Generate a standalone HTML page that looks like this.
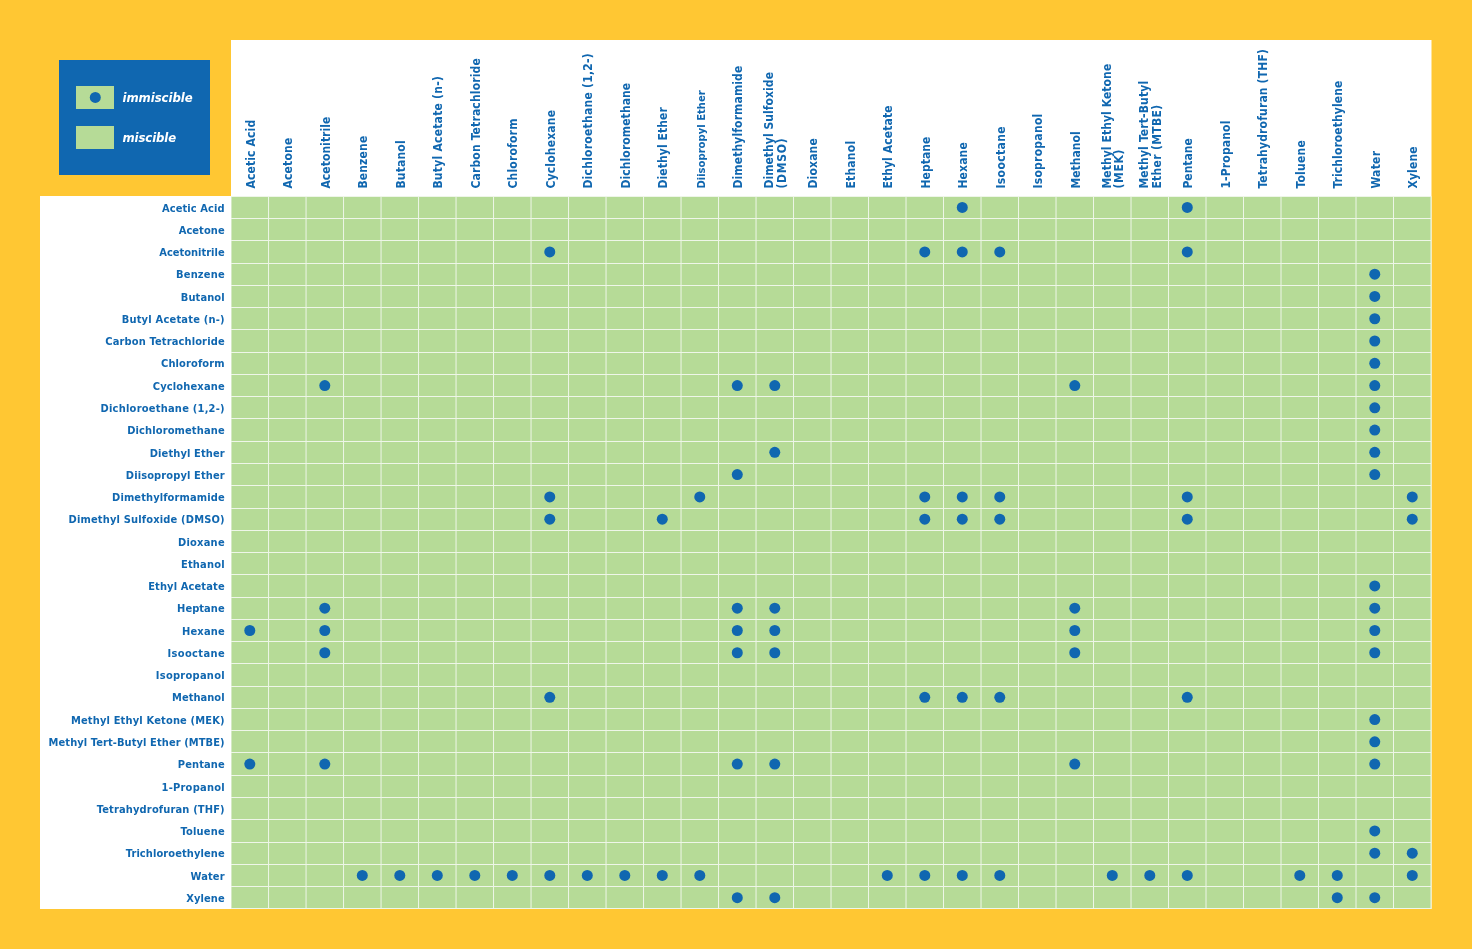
<!DOCTYPE html>
<html><head><meta charset="utf-8"><title>Solvent Miscibility Table</title>
<style>
html,body{margin:0;padding:0;background:#FFC733;}
body{width:1472px;height:949px;overflow:hidden;position:relative;}
svg{position:absolute;left:0;top:0;display:block;will-change:transform;}
.h{font-family:"DejaVu Sans",sans-serif;font-weight:bold;font-stretch:condensed;font-size:12px;fill:#1067B0;}
.r{font-family:"DejaVu Sans",sans-serif;font-weight:bold;font-stretch:condensed;font-size:11px;fill:#1067B0;}
.l{font-family:"DejaVu Sans",sans-serif;font-weight:bold;font-style:italic;font-stretch:condensed;font-size:13px;fill:#fff;}
</style></head><body>
<svg width="1472" height="949" viewBox="0 0 1472 949">
<rect x="0" y="0" width="1472" height="949" fill="#FFC733"/>
<rect x="231" y="40" width="1200.5" height="156" fill="#fff"/>
<rect x="40" y="196" width="1391.5" height="713" fill="#fff"/>
<rect x="231" y="196" width="1200.5" height="713" fill="#EEF6E8"/>
<rect x="59" y="60" width="151" height="115" fill="#1067B0"/>
<rect x="76" y="86" width="38" height="23" fill="#B6DB97"/>
<circle cx="95.3" cy="97.4" r="5.5" fill="#1067B0"/>
<rect x="76" y="126" width="38" height="23" fill="#B6DB97"/>
<text class="l" x="122.5" y="102" textLength="70.2">immiscible</text>
<text class="l" x="122.5" y="142" textLength="53.7">miscible</text>

<g fill="#B6DB97">
<rect x="231.54" y="197" width="36.50" height="21"/>
<rect x="269.04" y="197" width="36.50" height="21"/>
<rect x="306.54" y="197" width="36.50" height="21"/>
<rect x="344.04" y="197" width="36.50" height="21"/>
<rect x="381.54" y="197" width="36.50" height="21"/>
<rect x="419.03" y="197" width="36.50" height="21"/>
<rect x="456.53" y="197" width="36.50" height="21"/>
<rect x="494.03" y="197" width="36.50" height="21"/>
<rect x="531.53" y="197" width="36.50" height="21"/>
<rect x="569.03" y="197" width="36.50" height="21"/>
<rect x="606.53" y="197" width="36.50" height="21"/>
<rect x="644.03" y="197" width="36.50" height="21"/>
<rect x="681.53" y="197" width="36.50" height="21"/>
<rect x="719.03" y="197" width="36.50" height="21"/>
<rect x="756.53" y="197" width="36.50" height="21"/>
<rect x="794.02" y="197" width="36.50" height="21"/>
<rect x="831.52" y="197" width="36.50" height="21"/>
<rect x="869.02" y="197" width="36.50" height="21"/>
<rect x="906.52" y="197" width="36.50" height="21"/>
<rect x="944.02" y="197" width="36.50" height="21"/>
<rect x="981.52" y="197" width="36.50" height="21"/>
<rect x="1019.02" y="197" width="36.50" height="21"/>
<rect x="1056.52" y="197" width="36.50" height="21"/>
<rect x="1094.02" y="197" width="36.50" height="21"/>
<rect x="1131.52" y="197" width="36.50" height="21"/>
<rect x="1169.02" y="197" width="36.50" height="21"/>
<rect x="1206.51" y="197" width="36.50" height="21"/>
<rect x="1244.01" y="197" width="36.50" height="21"/>
<rect x="1281.51" y="197" width="36.50" height="21"/>
<rect x="1319.01" y="197" width="36.50" height="21"/>
<rect x="1356.51" y="197" width="36.50" height="21"/>
<rect x="1394.01" y="197" width="36.50" height="21"/>
<rect x="231.54" y="219" width="36.50" height="21"/>
<rect x="269.04" y="219" width="36.50" height="21"/>
<rect x="306.54" y="219" width="36.50" height="21"/>
<rect x="344.04" y="219" width="36.50" height="21"/>
<rect x="381.54" y="219" width="36.50" height="21"/>
<rect x="419.03" y="219" width="36.50" height="21"/>
<rect x="456.53" y="219" width="36.50" height="21"/>
<rect x="494.03" y="219" width="36.50" height="21"/>
<rect x="531.53" y="219" width="36.50" height="21"/>
<rect x="569.03" y="219" width="36.50" height="21"/>
<rect x="606.53" y="219" width="36.50" height="21"/>
<rect x="644.03" y="219" width="36.50" height="21"/>
<rect x="681.53" y="219" width="36.50" height="21"/>
<rect x="719.03" y="219" width="36.50" height="21"/>
<rect x="756.53" y="219" width="36.50" height="21"/>
<rect x="794.02" y="219" width="36.50" height="21"/>
<rect x="831.52" y="219" width="36.50" height="21"/>
<rect x="869.02" y="219" width="36.50" height="21"/>
<rect x="906.52" y="219" width="36.50" height="21"/>
<rect x="944.02" y="219" width="36.50" height="21"/>
<rect x="981.52" y="219" width="36.50" height="21"/>
<rect x="1019.02" y="219" width="36.50" height="21"/>
<rect x="1056.52" y="219" width="36.50" height="21"/>
<rect x="1094.02" y="219" width="36.50" height="21"/>
<rect x="1131.52" y="219" width="36.50" height="21"/>
<rect x="1169.02" y="219" width="36.50" height="21"/>
<rect x="1206.51" y="219" width="36.50" height="21"/>
<rect x="1244.01" y="219" width="36.50" height="21"/>
<rect x="1281.51" y="219" width="36.50" height="21"/>
<rect x="1319.01" y="219" width="36.50" height="21"/>
<rect x="1356.51" y="219" width="36.50" height="21"/>
<rect x="1394.01" y="219" width="36.50" height="21"/>
<rect x="231.54" y="241" width="36.50" height="22"/>
<rect x="269.04" y="241" width="36.50" height="22"/>
<rect x="306.54" y="241" width="36.50" height="22"/>
<rect x="344.04" y="241" width="36.50" height="22"/>
<rect x="381.54" y="241" width="36.50" height="22"/>
<rect x="419.03" y="241" width="36.50" height="22"/>
<rect x="456.53" y="241" width="36.50" height="22"/>
<rect x="494.03" y="241" width="36.50" height="22"/>
<rect x="531.53" y="241" width="36.50" height="22"/>
<rect x="569.03" y="241" width="36.50" height="22"/>
<rect x="606.53" y="241" width="36.50" height="22"/>
<rect x="644.03" y="241" width="36.50" height="22"/>
<rect x="681.53" y="241" width="36.50" height="22"/>
<rect x="719.03" y="241" width="36.50" height="22"/>
<rect x="756.53" y="241" width="36.50" height="22"/>
<rect x="794.02" y="241" width="36.50" height="22"/>
<rect x="831.52" y="241" width="36.50" height="22"/>
<rect x="869.02" y="241" width="36.50" height="22"/>
<rect x="906.52" y="241" width="36.50" height="22"/>
<rect x="944.02" y="241" width="36.50" height="22"/>
<rect x="981.52" y="241" width="36.50" height="22"/>
<rect x="1019.02" y="241" width="36.50" height="22"/>
<rect x="1056.52" y="241" width="36.50" height="22"/>
<rect x="1094.02" y="241" width="36.50" height="22"/>
<rect x="1131.52" y="241" width="36.50" height="22"/>
<rect x="1169.02" y="241" width="36.50" height="22"/>
<rect x="1206.51" y="241" width="36.50" height="22"/>
<rect x="1244.01" y="241" width="36.50" height="22"/>
<rect x="1281.51" y="241" width="36.50" height="22"/>
<rect x="1319.01" y="241" width="36.50" height="22"/>
<rect x="1356.51" y="241" width="36.50" height="22"/>
<rect x="1394.01" y="241" width="36.50" height="22"/>
<rect x="231.54" y="264" width="36.50" height="21"/>
<rect x="269.04" y="264" width="36.50" height="21"/>
<rect x="306.54" y="264" width="36.50" height="21"/>
<rect x="344.04" y="264" width="36.50" height="21"/>
<rect x="381.54" y="264" width="36.50" height="21"/>
<rect x="419.03" y="264" width="36.50" height="21"/>
<rect x="456.53" y="264" width="36.50" height="21"/>
<rect x="494.03" y="264" width="36.50" height="21"/>
<rect x="531.53" y="264" width="36.50" height="21"/>
<rect x="569.03" y="264" width="36.50" height="21"/>
<rect x="606.53" y="264" width="36.50" height="21"/>
<rect x="644.03" y="264" width="36.50" height="21"/>
<rect x="681.53" y="264" width="36.50" height="21"/>
<rect x="719.03" y="264" width="36.50" height="21"/>
<rect x="756.53" y="264" width="36.50" height="21"/>
<rect x="794.02" y="264" width="36.50" height="21"/>
<rect x="831.52" y="264" width="36.50" height="21"/>
<rect x="869.02" y="264" width="36.50" height="21"/>
<rect x="906.52" y="264" width="36.50" height="21"/>
<rect x="944.02" y="264" width="36.50" height="21"/>
<rect x="981.52" y="264" width="36.50" height="21"/>
<rect x="1019.02" y="264" width="36.50" height="21"/>
<rect x="1056.52" y="264" width="36.50" height="21"/>
<rect x="1094.02" y="264" width="36.50" height="21"/>
<rect x="1131.52" y="264" width="36.50" height="21"/>
<rect x="1169.02" y="264" width="36.50" height="21"/>
<rect x="1206.51" y="264" width="36.50" height="21"/>
<rect x="1244.01" y="264" width="36.50" height="21"/>
<rect x="1281.51" y="264" width="36.50" height="21"/>
<rect x="1319.01" y="264" width="36.50" height="21"/>
<rect x="1356.51" y="264" width="36.50" height="21"/>
<rect x="1394.01" y="264" width="36.50" height="21"/>
<rect x="231.54" y="286" width="36.50" height="21"/>
<rect x="269.04" y="286" width="36.50" height="21"/>
<rect x="306.54" y="286" width="36.50" height="21"/>
<rect x="344.04" y="286" width="36.50" height="21"/>
<rect x="381.54" y="286" width="36.50" height="21"/>
<rect x="419.03" y="286" width="36.50" height="21"/>
<rect x="456.53" y="286" width="36.50" height="21"/>
<rect x="494.03" y="286" width="36.50" height="21"/>
<rect x="531.53" y="286" width="36.50" height="21"/>
<rect x="569.03" y="286" width="36.50" height="21"/>
<rect x="606.53" y="286" width="36.50" height="21"/>
<rect x="644.03" y="286" width="36.50" height="21"/>
<rect x="681.53" y="286" width="36.50" height="21"/>
<rect x="719.03" y="286" width="36.50" height="21"/>
<rect x="756.53" y="286" width="36.50" height="21"/>
<rect x="794.02" y="286" width="36.50" height="21"/>
<rect x="831.52" y="286" width="36.50" height="21"/>
<rect x="869.02" y="286" width="36.50" height="21"/>
<rect x="906.52" y="286" width="36.50" height="21"/>
<rect x="944.02" y="286" width="36.50" height="21"/>
<rect x="981.52" y="286" width="36.50" height="21"/>
<rect x="1019.02" y="286" width="36.50" height="21"/>
<rect x="1056.52" y="286" width="36.50" height="21"/>
<rect x="1094.02" y="286" width="36.50" height="21"/>
<rect x="1131.52" y="286" width="36.50" height="21"/>
<rect x="1169.02" y="286" width="36.50" height="21"/>
<rect x="1206.51" y="286" width="36.50" height="21"/>
<rect x="1244.01" y="286" width="36.50" height="21"/>
<rect x="1281.51" y="286" width="36.50" height="21"/>
<rect x="1319.01" y="286" width="36.50" height="21"/>
<rect x="1356.51" y="286" width="36.50" height="21"/>
<rect x="1394.01" y="286" width="36.50" height="21"/>
<rect x="231.54" y="308" width="36.50" height="21"/>
<rect x="269.04" y="308" width="36.50" height="21"/>
<rect x="306.54" y="308" width="36.50" height="21"/>
<rect x="344.04" y="308" width="36.50" height="21"/>
<rect x="381.54" y="308" width="36.50" height="21"/>
<rect x="419.03" y="308" width="36.50" height="21"/>
<rect x="456.53" y="308" width="36.50" height="21"/>
<rect x="494.03" y="308" width="36.50" height="21"/>
<rect x="531.53" y="308" width="36.50" height="21"/>
<rect x="569.03" y="308" width="36.50" height="21"/>
<rect x="606.53" y="308" width="36.50" height="21"/>
<rect x="644.03" y="308" width="36.50" height="21"/>
<rect x="681.53" y="308" width="36.50" height="21"/>
<rect x="719.03" y="308" width="36.50" height="21"/>
<rect x="756.53" y="308" width="36.50" height="21"/>
<rect x="794.02" y="308" width="36.50" height="21"/>
<rect x="831.52" y="308" width="36.50" height="21"/>
<rect x="869.02" y="308" width="36.50" height="21"/>
<rect x="906.52" y="308" width="36.50" height="21"/>
<rect x="944.02" y="308" width="36.50" height="21"/>
<rect x="981.52" y="308" width="36.50" height="21"/>
<rect x="1019.02" y="308" width="36.50" height="21"/>
<rect x="1056.52" y="308" width="36.50" height="21"/>
<rect x="1094.02" y="308" width="36.50" height="21"/>
<rect x="1131.52" y="308" width="36.50" height="21"/>
<rect x="1169.02" y="308" width="36.50" height="21"/>
<rect x="1206.51" y="308" width="36.50" height="21"/>
<rect x="1244.01" y="308" width="36.50" height="21"/>
<rect x="1281.51" y="308" width="36.50" height="21"/>
<rect x="1319.01" y="308" width="36.50" height="21"/>
<rect x="1356.51" y="308" width="36.50" height="21"/>
<rect x="1394.01" y="308" width="36.50" height="21"/>
<rect x="231.54" y="330" width="36.50" height="22"/>
<rect x="269.04" y="330" width="36.50" height="22"/>
<rect x="306.54" y="330" width="36.50" height="22"/>
<rect x="344.04" y="330" width="36.50" height="22"/>
<rect x="381.54" y="330" width="36.50" height="22"/>
<rect x="419.03" y="330" width="36.50" height="22"/>
<rect x="456.53" y="330" width="36.50" height="22"/>
<rect x="494.03" y="330" width="36.50" height="22"/>
<rect x="531.53" y="330" width="36.50" height="22"/>
<rect x="569.03" y="330" width="36.50" height="22"/>
<rect x="606.53" y="330" width="36.50" height="22"/>
<rect x="644.03" y="330" width="36.50" height="22"/>
<rect x="681.53" y="330" width="36.50" height="22"/>
<rect x="719.03" y="330" width="36.50" height="22"/>
<rect x="756.53" y="330" width="36.50" height="22"/>
<rect x="794.02" y="330" width="36.50" height="22"/>
<rect x="831.52" y="330" width="36.50" height="22"/>
<rect x="869.02" y="330" width="36.50" height="22"/>
<rect x="906.52" y="330" width="36.50" height="22"/>
<rect x="944.02" y="330" width="36.50" height="22"/>
<rect x="981.52" y="330" width="36.50" height="22"/>
<rect x="1019.02" y="330" width="36.50" height="22"/>
<rect x="1056.52" y="330" width="36.50" height="22"/>
<rect x="1094.02" y="330" width="36.50" height="22"/>
<rect x="1131.52" y="330" width="36.50" height="22"/>
<rect x="1169.02" y="330" width="36.50" height="22"/>
<rect x="1206.51" y="330" width="36.50" height="22"/>
<rect x="1244.01" y="330" width="36.50" height="22"/>
<rect x="1281.51" y="330" width="36.50" height="22"/>
<rect x="1319.01" y="330" width="36.50" height="22"/>
<rect x="1356.51" y="330" width="36.50" height="22"/>
<rect x="1394.01" y="330" width="36.50" height="22"/>
<rect x="231.54" y="353" width="36.50" height="21"/>
<rect x="269.04" y="353" width="36.50" height="21"/>
<rect x="306.54" y="353" width="36.50" height="21"/>
<rect x="344.04" y="353" width="36.50" height="21"/>
<rect x="381.54" y="353" width="36.50" height="21"/>
<rect x="419.03" y="353" width="36.50" height="21"/>
<rect x="456.53" y="353" width="36.50" height="21"/>
<rect x="494.03" y="353" width="36.50" height="21"/>
<rect x="531.53" y="353" width="36.50" height="21"/>
<rect x="569.03" y="353" width="36.50" height="21"/>
<rect x="606.53" y="353" width="36.50" height="21"/>
<rect x="644.03" y="353" width="36.50" height="21"/>
<rect x="681.53" y="353" width="36.50" height="21"/>
<rect x="719.03" y="353" width="36.50" height="21"/>
<rect x="756.53" y="353" width="36.50" height="21"/>
<rect x="794.02" y="353" width="36.50" height="21"/>
<rect x="831.52" y="353" width="36.50" height="21"/>
<rect x="869.02" y="353" width="36.50" height="21"/>
<rect x="906.52" y="353" width="36.50" height="21"/>
<rect x="944.02" y="353" width="36.50" height="21"/>
<rect x="981.52" y="353" width="36.50" height="21"/>
<rect x="1019.02" y="353" width="36.50" height="21"/>
<rect x="1056.52" y="353" width="36.50" height="21"/>
<rect x="1094.02" y="353" width="36.50" height="21"/>
<rect x="1131.52" y="353" width="36.50" height="21"/>
<rect x="1169.02" y="353" width="36.50" height="21"/>
<rect x="1206.51" y="353" width="36.50" height="21"/>
<rect x="1244.01" y="353" width="36.50" height="21"/>
<rect x="1281.51" y="353" width="36.50" height="21"/>
<rect x="1319.01" y="353" width="36.50" height="21"/>
<rect x="1356.51" y="353" width="36.50" height="21"/>
<rect x="1394.01" y="353" width="36.50" height="21"/>
<rect x="231.54" y="375" width="36.50" height="21"/>
<rect x="269.04" y="375" width="36.50" height="21"/>
<rect x="306.54" y="375" width="36.50" height="21"/>
<rect x="344.04" y="375" width="36.50" height="21"/>
<rect x="381.54" y="375" width="36.50" height="21"/>
<rect x="419.03" y="375" width="36.50" height="21"/>
<rect x="456.53" y="375" width="36.50" height="21"/>
<rect x="494.03" y="375" width="36.50" height="21"/>
<rect x="531.53" y="375" width="36.50" height="21"/>
<rect x="569.03" y="375" width="36.50" height="21"/>
<rect x="606.53" y="375" width="36.50" height="21"/>
<rect x="644.03" y="375" width="36.50" height="21"/>
<rect x="681.53" y="375" width="36.50" height="21"/>
<rect x="719.03" y="375" width="36.50" height="21"/>
<rect x="756.53" y="375" width="36.50" height="21"/>
<rect x="794.02" y="375" width="36.50" height="21"/>
<rect x="831.52" y="375" width="36.50" height="21"/>
<rect x="869.02" y="375" width="36.50" height="21"/>
<rect x="906.52" y="375" width="36.50" height="21"/>
<rect x="944.02" y="375" width="36.50" height="21"/>
<rect x="981.52" y="375" width="36.50" height="21"/>
<rect x="1019.02" y="375" width="36.50" height="21"/>
<rect x="1056.52" y="375" width="36.50" height="21"/>
<rect x="1094.02" y="375" width="36.50" height="21"/>
<rect x="1131.52" y="375" width="36.50" height="21"/>
<rect x="1169.02" y="375" width="36.50" height="21"/>
<rect x="1206.51" y="375" width="36.50" height="21"/>
<rect x="1244.01" y="375" width="36.50" height="21"/>
<rect x="1281.51" y="375" width="36.50" height="21"/>
<rect x="1319.01" y="375" width="36.50" height="21"/>
<rect x="1356.51" y="375" width="36.50" height="21"/>
<rect x="1394.01" y="375" width="36.50" height="21"/>
<rect x="231.54" y="397" width="36.50" height="21"/>
<rect x="269.04" y="397" width="36.50" height="21"/>
<rect x="306.54" y="397" width="36.50" height="21"/>
<rect x="344.04" y="397" width="36.50" height="21"/>
<rect x="381.54" y="397" width="36.50" height="21"/>
<rect x="419.03" y="397" width="36.50" height="21"/>
<rect x="456.53" y="397" width="36.50" height="21"/>
<rect x="494.03" y="397" width="36.50" height="21"/>
<rect x="531.53" y="397" width="36.50" height="21"/>
<rect x="569.03" y="397" width="36.50" height="21"/>
<rect x="606.53" y="397" width="36.50" height="21"/>
<rect x="644.03" y="397" width="36.50" height="21"/>
<rect x="681.53" y="397" width="36.50" height="21"/>
<rect x="719.03" y="397" width="36.50" height="21"/>
<rect x="756.53" y="397" width="36.50" height="21"/>
<rect x="794.02" y="397" width="36.50" height="21"/>
<rect x="831.52" y="397" width="36.50" height="21"/>
<rect x="869.02" y="397" width="36.50" height="21"/>
<rect x="906.52" y="397" width="36.50" height="21"/>
<rect x="944.02" y="397" width="36.50" height="21"/>
<rect x="981.52" y="397" width="36.50" height="21"/>
<rect x="1019.02" y="397" width="36.50" height="21"/>
<rect x="1056.52" y="397" width="36.50" height="21"/>
<rect x="1094.02" y="397" width="36.50" height="21"/>
<rect x="1131.52" y="397" width="36.50" height="21"/>
<rect x="1169.02" y="397" width="36.50" height="21"/>
<rect x="1206.51" y="397" width="36.50" height="21"/>
<rect x="1244.01" y="397" width="36.50" height="21"/>
<rect x="1281.51" y="397" width="36.50" height="21"/>
<rect x="1319.01" y="397" width="36.50" height="21"/>
<rect x="1356.51" y="397" width="36.50" height="21"/>
<rect x="1394.01" y="397" width="36.50" height="21"/>
<rect x="231.54" y="419" width="36.50" height="22"/>
<rect x="269.04" y="419" width="36.50" height="22"/>
<rect x="306.54" y="419" width="36.50" height="22"/>
<rect x="344.04" y="419" width="36.50" height="22"/>
<rect x="381.54" y="419" width="36.50" height="22"/>
<rect x="419.03" y="419" width="36.50" height="22"/>
<rect x="456.53" y="419" width="36.50" height="22"/>
<rect x="494.03" y="419" width="36.50" height="22"/>
<rect x="531.53" y="419" width="36.50" height="22"/>
<rect x="569.03" y="419" width="36.50" height="22"/>
<rect x="606.53" y="419" width="36.50" height="22"/>
<rect x="644.03" y="419" width="36.50" height="22"/>
<rect x="681.53" y="419" width="36.50" height="22"/>
<rect x="719.03" y="419" width="36.50" height="22"/>
<rect x="756.53" y="419" width="36.50" height="22"/>
<rect x="794.02" y="419" width="36.50" height="22"/>
<rect x="831.52" y="419" width="36.50" height="22"/>
<rect x="869.02" y="419" width="36.50" height="22"/>
<rect x="906.52" y="419" width="36.50" height="22"/>
<rect x="944.02" y="419" width="36.50" height="22"/>
<rect x="981.52" y="419" width="36.50" height="22"/>
<rect x="1019.02" y="419" width="36.50" height="22"/>
<rect x="1056.52" y="419" width="36.50" height="22"/>
<rect x="1094.02" y="419" width="36.50" height="22"/>
<rect x="1131.52" y="419" width="36.50" height="22"/>
<rect x="1169.02" y="419" width="36.50" height="22"/>
<rect x="1206.51" y="419" width="36.50" height="22"/>
<rect x="1244.01" y="419" width="36.50" height="22"/>
<rect x="1281.51" y="419" width="36.50" height="22"/>
<rect x="1319.01" y="419" width="36.50" height="22"/>
<rect x="1356.51" y="419" width="36.50" height="22"/>
<rect x="1394.01" y="419" width="36.50" height="22"/>
<rect x="231.54" y="442" width="36.50" height="21"/>
<rect x="269.04" y="442" width="36.50" height="21"/>
<rect x="306.54" y="442" width="36.50" height="21"/>
<rect x="344.04" y="442" width="36.50" height="21"/>
<rect x="381.54" y="442" width="36.50" height="21"/>
<rect x="419.03" y="442" width="36.50" height="21"/>
<rect x="456.53" y="442" width="36.50" height="21"/>
<rect x="494.03" y="442" width="36.50" height="21"/>
<rect x="531.53" y="442" width="36.50" height="21"/>
<rect x="569.03" y="442" width="36.50" height="21"/>
<rect x="606.53" y="442" width="36.50" height="21"/>
<rect x="644.03" y="442" width="36.50" height="21"/>
<rect x="681.53" y="442" width="36.50" height="21"/>
<rect x="719.03" y="442" width="36.50" height="21"/>
<rect x="756.53" y="442" width="36.50" height="21"/>
<rect x="794.02" y="442" width="36.50" height="21"/>
<rect x="831.52" y="442" width="36.50" height="21"/>
<rect x="869.02" y="442" width="36.50" height="21"/>
<rect x="906.52" y="442" width="36.50" height="21"/>
<rect x="944.02" y="442" width="36.50" height="21"/>
<rect x="981.52" y="442" width="36.50" height="21"/>
<rect x="1019.02" y="442" width="36.50" height="21"/>
<rect x="1056.52" y="442" width="36.50" height="21"/>
<rect x="1094.02" y="442" width="36.50" height="21"/>
<rect x="1131.52" y="442" width="36.50" height="21"/>
<rect x="1169.02" y="442" width="36.50" height="21"/>
<rect x="1206.51" y="442" width="36.50" height="21"/>
<rect x="1244.01" y="442" width="36.50" height="21"/>
<rect x="1281.51" y="442" width="36.50" height="21"/>
<rect x="1319.01" y="442" width="36.50" height="21"/>
<rect x="1356.51" y="442" width="36.50" height="21"/>
<rect x="1394.01" y="442" width="36.50" height="21"/>
<rect x="231.54" y="464" width="36.50" height="21"/>
<rect x="269.04" y="464" width="36.50" height="21"/>
<rect x="306.54" y="464" width="36.50" height="21"/>
<rect x="344.04" y="464" width="36.50" height="21"/>
<rect x="381.54" y="464" width="36.50" height="21"/>
<rect x="419.03" y="464" width="36.50" height="21"/>
<rect x="456.53" y="464" width="36.50" height="21"/>
<rect x="494.03" y="464" width="36.50" height="21"/>
<rect x="531.53" y="464" width="36.50" height="21"/>
<rect x="569.03" y="464" width="36.50" height="21"/>
<rect x="606.53" y="464" width="36.50" height="21"/>
<rect x="644.03" y="464" width="36.50" height="21"/>
<rect x="681.53" y="464" width="36.50" height="21"/>
<rect x="719.03" y="464" width="36.50" height="21"/>
<rect x="756.53" y="464" width="36.50" height="21"/>
<rect x="794.02" y="464" width="36.50" height="21"/>
<rect x="831.52" y="464" width="36.50" height="21"/>
<rect x="869.02" y="464" width="36.50" height="21"/>
<rect x="906.52" y="464" width="36.50" height="21"/>
<rect x="944.02" y="464" width="36.50" height="21"/>
<rect x="981.52" y="464" width="36.50" height="21"/>
<rect x="1019.02" y="464" width="36.50" height="21"/>
<rect x="1056.52" y="464" width="36.50" height="21"/>
<rect x="1094.02" y="464" width="36.50" height="21"/>
<rect x="1131.52" y="464" width="36.50" height="21"/>
<rect x="1169.02" y="464" width="36.50" height="21"/>
<rect x="1206.51" y="464" width="36.50" height="21"/>
<rect x="1244.01" y="464" width="36.50" height="21"/>
<rect x="1281.51" y="464" width="36.50" height="21"/>
<rect x="1319.01" y="464" width="36.50" height="21"/>
<rect x="1356.51" y="464" width="36.50" height="21"/>
<rect x="1394.01" y="464" width="36.50" height="21"/>
<rect x="231.54" y="486" width="36.50" height="22"/>
<rect x="269.04" y="486" width="36.50" height="22"/>
<rect x="306.54" y="486" width="36.50" height="22"/>
<rect x="344.04" y="486" width="36.50" height="22"/>
<rect x="381.54" y="486" width="36.50" height="22"/>
<rect x="419.03" y="486" width="36.50" height="22"/>
<rect x="456.53" y="486" width="36.50" height="22"/>
<rect x="494.03" y="486" width="36.50" height="22"/>
<rect x="531.53" y="486" width="36.50" height="22"/>
<rect x="569.03" y="486" width="36.50" height="22"/>
<rect x="606.53" y="486" width="36.50" height="22"/>
<rect x="644.03" y="486" width="36.50" height="22"/>
<rect x="681.53" y="486" width="36.50" height="22"/>
<rect x="719.03" y="486" width="36.50" height="22"/>
<rect x="756.53" y="486" width="36.50" height="22"/>
<rect x="794.02" y="486" width="36.50" height="22"/>
<rect x="831.52" y="486" width="36.50" height="22"/>
<rect x="869.02" y="486" width="36.50" height="22"/>
<rect x="906.52" y="486" width="36.50" height="22"/>
<rect x="944.02" y="486" width="36.50" height="22"/>
<rect x="981.52" y="486" width="36.50" height="22"/>
<rect x="1019.02" y="486" width="36.50" height="22"/>
<rect x="1056.52" y="486" width="36.50" height="22"/>
<rect x="1094.02" y="486" width="36.50" height="22"/>
<rect x="1131.52" y="486" width="36.50" height="22"/>
<rect x="1169.02" y="486" width="36.50" height="22"/>
<rect x="1206.51" y="486" width="36.50" height="22"/>
<rect x="1244.01" y="486" width="36.50" height="22"/>
<rect x="1281.51" y="486" width="36.50" height="22"/>
<rect x="1319.01" y="486" width="36.50" height="22"/>
<rect x="1356.51" y="486" width="36.50" height="22"/>
<rect x="1394.01" y="486" width="36.50" height="22"/>
<rect x="231.54" y="509" width="36.50" height="21"/>
<rect x="269.04" y="509" width="36.50" height="21"/>
<rect x="306.54" y="509" width="36.50" height="21"/>
<rect x="344.04" y="509" width="36.50" height="21"/>
<rect x="381.54" y="509" width="36.50" height="21"/>
<rect x="419.03" y="509" width="36.50" height="21"/>
<rect x="456.53" y="509" width="36.50" height="21"/>
<rect x="494.03" y="509" width="36.50" height="21"/>
<rect x="531.53" y="509" width="36.50" height="21"/>
<rect x="569.03" y="509" width="36.50" height="21"/>
<rect x="606.53" y="509" width="36.50" height="21"/>
<rect x="644.03" y="509" width="36.50" height="21"/>
<rect x="681.53" y="509" width="36.50" height="21"/>
<rect x="719.03" y="509" width="36.50" height="21"/>
<rect x="756.53" y="509" width="36.50" height="21"/>
<rect x="794.02" y="509" width="36.50" height="21"/>
<rect x="831.52" y="509" width="36.50" height="21"/>
<rect x="869.02" y="509" width="36.50" height="21"/>
<rect x="906.52" y="509" width="36.50" height="21"/>
<rect x="944.02" y="509" width="36.50" height="21"/>
<rect x="981.52" y="509" width="36.50" height="21"/>
<rect x="1019.02" y="509" width="36.50" height="21"/>
<rect x="1056.52" y="509" width="36.50" height="21"/>
<rect x="1094.02" y="509" width="36.50" height="21"/>
<rect x="1131.52" y="509" width="36.50" height="21"/>
<rect x="1169.02" y="509" width="36.50" height="21"/>
<rect x="1206.51" y="509" width="36.50" height="21"/>
<rect x="1244.01" y="509" width="36.50" height="21"/>
<rect x="1281.51" y="509" width="36.50" height="21"/>
<rect x="1319.01" y="509" width="36.50" height="21"/>
<rect x="1356.51" y="509" width="36.50" height="21"/>
<rect x="1394.01" y="509" width="36.50" height="21"/>
<rect x="231.54" y="531" width="36.50" height="21"/>
<rect x="269.04" y="531" width="36.50" height="21"/>
<rect x="306.54" y="531" width="36.50" height="21"/>
<rect x="344.04" y="531" width="36.50" height="21"/>
<rect x="381.54" y="531" width="36.50" height="21"/>
<rect x="419.03" y="531" width="36.50" height="21"/>
<rect x="456.53" y="531" width="36.50" height="21"/>
<rect x="494.03" y="531" width="36.50" height="21"/>
<rect x="531.53" y="531" width="36.50" height="21"/>
<rect x="569.03" y="531" width="36.50" height="21"/>
<rect x="606.53" y="531" width="36.50" height="21"/>
<rect x="644.03" y="531" width="36.50" height="21"/>
<rect x="681.53" y="531" width="36.50" height="21"/>
<rect x="719.03" y="531" width="36.50" height="21"/>
<rect x="756.53" y="531" width="36.50" height="21"/>
<rect x="794.02" y="531" width="36.50" height="21"/>
<rect x="831.52" y="531" width="36.50" height="21"/>
<rect x="869.02" y="531" width="36.50" height="21"/>
<rect x="906.52" y="531" width="36.50" height="21"/>
<rect x="944.02" y="531" width="36.50" height="21"/>
<rect x="981.52" y="531" width="36.50" height="21"/>
<rect x="1019.02" y="531" width="36.50" height="21"/>
<rect x="1056.52" y="531" width="36.50" height="21"/>
<rect x="1094.02" y="531" width="36.50" height="21"/>
<rect x="1131.52" y="531" width="36.50" height="21"/>
<rect x="1169.02" y="531" width="36.50" height="21"/>
<rect x="1206.51" y="531" width="36.50" height="21"/>
<rect x="1244.01" y="531" width="36.50" height="21"/>
<rect x="1281.51" y="531" width="36.50" height="21"/>
<rect x="1319.01" y="531" width="36.50" height="21"/>
<rect x="1356.51" y="531" width="36.50" height="21"/>
<rect x="1394.01" y="531" width="36.50" height="21"/>
<rect x="231.54" y="553" width="36.50" height="21"/>
<rect x="269.04" y="553" width="36.50" height="21"/>
<rect x="306.54" y="553" width="36.50" height="21"/>
<rect x="344.04" y="553" width="36.50" height="21"/>
<rect x="381.54" y="553" width="36.50" height="21"/>
<rect x="419.03" y="553" width="36.50" height="21"/>
<rect x="456.53" y="553" width="36.50" height="21"/>
<rect x="494.03" y="553" width="36.50" height="21"/>
<rect x="531.53" y="553" width="36.50" height="21"/>
<rect x="569.03" y="553" width="36.50" height="21"/>
<rect x="606.53" y="553" width="36.50" height="21"/>
<rect x="644.03" y="553" width="36.50" height="21"/>
<rect x="681.53" y="553" width="36.50" height="21"/>
<rect x="719.03" y="553" width="36.50" height="21"/>
<rect x="756.53" y="553" width="36.50" height="21"/>
<rect x="794.02" y="553" width="36.50" height="21"/>
<rect x="831.52" y="553" width="36.50" height="21"/>
<rect x="869.02" y="553" width="36.50" height="21"/>
<rect x="906.52" y="553" width="36.50" height="21"/>
<rect x="944.02" y="553" width="36.50" height="21"/>
<rect x="981.52" y="553" width="36.50" height="21"/>
<rect x="1019.02" y="553" width="36.50" height="21"/>
<rect x="1056.52" y="553" width="36.50" height="21"/>
<rect x="1094.02" y="553" width="36.50" height="21"/>
<rect x="1131.52" y="553" width="36.50" height="21"/>
<rect x="1169.02" y="553" width="36.50" height="21"/>
<rect x="1206.51" y="553" width="36.50" height="21"/>
<rect x="1244.01" y="553" width="36.50" height="21"/>
<rect x="1281.51" y="553" width="36.50" height="21"/>
<rect x="1319.01" y="553" width="36.50" height="21"/>
<rect x="1356.51" y="553" width="36.50" height="21"/>
<rect x="1394.01" y="553" width="36.50" height="21"/>
<rect x="231.54" y="575" width="36.50" height="22"/>
<rect x="269.04" y="575" width="36.50" height="22"/>
<rect x="306.54" y="575" width="36.50" height="22"/>
<rect x="344.04" y="575" width="36.50" height="22"/>
<rect x="381.54" y="575" width="36.50" height="22"/>
<rect x="419.03" y="575" width="36.50" height="22"/>
<rect x="456.53" y="575" width="36.50" height="22"/>
<rect x="494.03" y="575" width="36.50" height="22"/>
<rect x="531.53" y="575" width="36.50" height="22"/>
<rect x="569.03" y="575" width="36.50" height="22"/>
<rect x="606.53" y="575" width="36.50" height="22"/>
<rect x="644.03" y="575" width="36.50" height="22"/>
<rect x="681.53" y="575" width="36.50" height="22"/>
<rect x="719.03" y="575" width="36.50" height="22"/>
<rect x="756.53" y="575" width="36.50" height="22"/>
<rect x="794.02" y="575" width="36.50" height="22"/>
<rect x="831.52" y="575" width="36.50" height="22"/>
<rect x="869.02" y="575" width="36.50" height="22"/>
<rect x="906.52" y="575" width="36.50" height="22"/>
<rect x="944.02" y="575" width="36.50" height="22"/>
<rect x="981.52" y="575" width="36.50" height="22"/>
<rect x="1019.02" y="575" width="36.50" height="22"/>
<rect x="1056.52" y="575" width="36.50" height="22"/>
<rect x="1094.02" y="575" width="36.50" height="22"/>
<rect x="1131.52" y="575" width="36.50" height="22"/>
<rect x="1169.02" y="575" width="36.50" height="22"/>
<rect x="1206.51" y="575" width="36.50" height="22"/>
<rect x="1244.01" y="575" width="36.50" height="22"/>
<rect x="1281.51" y="575" width="36.50" height="22"/>
<rect x="1319.01" y="575" width="36.50" height="22"/>
<rect x="1356.51" y="575" width="36.50" height="22"/>
<rect x="1394.01" y="575" width="36.50" height="22"/>
<rect x="231.54" y="598" width="36.50" height="21"/>
<rect x="269.04" y="598" width="36.50" height="21"/>
<rect x="306.54" y="598" width="36.50" height="21"/>
<rect x="344.04" y="598" width="36.50" height="21"/>
<rect x="381.54" y="598" width="36.50" height="21"/>
<rect x="419.03" y="598" width="36.50" height="21"/>
<rect x="456.53" y="598" width="36.50" height="21"/>
<rect x="494.03" y="598" width="36.50" height="21"/>
<rect x="531.53" y="598" width="36.50" height="21"/>
<rect x="569.03" y="598" width="36.50" height="21"/>
<rect x="606.53" y="598" width="36.50" height="21"/>
<rect x="644.03" y="598" width="36.50" height="21"/>
<rect x="681.53" y="598" width="36.50" height="21"/>
<rect x="719.03" y="598" width="36.50" height="21"/>
<rect x="756.53" y="598" width="36.50" height="21"/>
<rect x="794.02" y="598" width="36.50" height="21"/>
<rect x="831.52" y="598" width="36.50" height="21"/>
<rect x="869.02" y="598" width="36.50" height="21"/>
<rect x="906.52" y="598" width="36.50" height="21"/>
<rect x="944.02" y="598" width="36.50" height="21"/>
<rect x="981.52" y="598" width="36.50" height="21"/>
<rect x="1019.02" y="598" width="36.50" height="21"/>
<rect x="1056.52" y="598" width="36.50" height="21"/>
<rect x="1094.02" y="598" width="36.50" height="21"/>
<rect x="1131.52" y="598" width="36.50" height="21"/>
<rect x="1169.02" y="598" width="36.50" height="21"/>
<rect x="1206.51" y="598" width="36.50" height="21"/>
<rect x="1244.01" y="598" width="36.50" height="21"/>
<rect x="1281.51" y="598" width="36.50" height="21"/>
<rect x="1319.01" y="598" width="36.50" height="21"/>
<rect x="1356.51" y="598" width="36.50" height="21"/>
<rect x="1394.01" y="598" width="36.50" height="21"/>
<rect x="231.54" y="620" width="36.50" height="21"/>
<rect x="269.04" y="620" width="36.50" height="21"/>
<rect x="306.54" y="620" width="36.50" height="21"/>
<rect x="344.04" y="620" width="36.50" height="21"/>
<rect x="381.54" y="620" width="36.50" height="21"/>
<rect x="419.03" y="620" width="36.50" height="21"/>
<rect x="456.53" y="620" width="36.50" height="21"/>
<rect x="494.03" y="620" width="36.50" height="21"/>
<rect x="531.53" y="620" width="36.50" height="21"/>
<rect x="569.03" y="620" width="36.50" height="21"/>
<rect x="606.53" y="620" width="36.50" height="21"/>
<rect x="644.03" y="620" width="36.50" height="21"/>
<rect x="681.53" y="620" width="36.50" height="21"/>
<rect x="719.03" y="620" width="36.50" height="21"/>
<rect x="756.53" y="620" width="36.50" height="21"/>
<rect x="794.02" y="620" width="36.50" height="21"/>
<rect x="831.52" y="620" width="36.50" height="21"/>
<rect x="869.02" y="620" width="36.50" height="21"/>
<rect x="906.52" y="620" width="36.50" height="21"/>
<rect x="944.02" y="620" width="36.50" height="21"/>
<rect x="981.52" y="620" width="36.50" height="21"/>
<rect x="1019.02" y="620" width="36.50" height="21"/>
<rect x="1056.52" y="620" width="36.50" height="21"/>
<rect x="1094.02" y="620" width="36.50" height="21"/>
<rect x="1131.52" y="620" width="36.50" height="21"/>
<rect x="1169.02" y="620" width="36.50" height="21"/>
<rect x="1206.51" y="620" width="36.50" height="21"/>
<rect x="1244.01" y="620" width="36.50" height="21"/>
<rect x="1281.51" y="620" width="36.50" height="21"/>
<rect x="1319.01" y="620" width="36.50" height="21"/>
<rect x="1356.51" y="620" width="36.50" height="21"/>
<rect x="1394.01" y="620" width="36.50" height="21"/>
<rect x="231.54" y="642" width="36.50" height="21"/>
<rect x="269.04" y="642" width="36.50" height="21"/>
<rect x="306.54" y="642" width="36.50" height="21"/>
<rect x="344.04" y="642" width="36.50" height="21"/>
<rect x="381.54" y="642" width="36.50" height="21"/>
<rect x="419.03" y="642" width="36.50" height="21"/>
<rect x="456.53" y="642" width="36.50" height="21"/>
<rect x="494.03" y="642" width="36.50" height="21"/>
<rect x="531.53" y="642" width="36.50" height="21"/>
<rect x="569.03" y="642" width="36.50" height="21"/>
<rect x="606.53" y="642" width="36.50" height="21"/>
<rect x="644.03" y="642" width="36.50" height="21"/>
<rect x="681.53" y="642" width="36.50" height="21"/>
<rect x="719.03" y="642" width="36.50" height="21"/>
<rect x="756.53" y="642" width="36.50" height="21"/>
<rect x="794.02" y="642" width="36.50" height="21"/>
<rect x="831.52" y="642" width="36.50" height="21"/>
<rect x="869.02" y="642" width="36.50" height="21"/>
<rect x="906.52" y="642" width="36.50" height="21"/>
<rect x="944.02" y="642" width="36.50" height="21"/>
<rect x="981.52" y="642" width="36.50" height="21"/>
<rect x="1019.02" y="642" width="36.50" height="21"/>
<rect x="1056.52" y="642" width="36.50" height="21"/>
<rect x="1094.02" y="642" width="36.50" height="21"/>
<rect x="1131.52" y="642" width="36.50" height="21"/>
<rect x="1169.02" y="642" width="36.50" height="21"/>
<rect x="1206.51" y="642" width="36.50" height="21"/>
<rect x="1244.01" y="642" width="36.50" height="21"/>
<rect x="1281.51" y="642" width="36.50" height="21"/>
<rect x="1319.01" y="642" width="36.50" height="21"/>
<rect x="1356.51" y="642" width="36.50" height="21"/>
<rect x="1394.01" y="642" width="36.50" height="21"/>
<rect x="231.54" y="664" width="36.50" height="22"/>
<rect x="269.04" y="664" width="36.50" height="22"/>
<rect x="306.54" y="664" width="36.50" height="22"/>
<rect x="344.04" y="664" width="36.50" height="22"/>
<rect x="381.54" y="664" width="36.50" height="22"/>
<rect x="419.03" y="664" width="36.50" height="22"/>
<rect x="456.53" y="664" width="36.50" height="22"/>
<rect x="494.03" y="664" width="36.50" height="22"/>
<rect x="531.53" y="664" width="36.50" height="22"/>
<rect x="569.03" y="664" width="36.50" height="22"/>
<rect x="606.53" y="664" width="36.50" height="22"/>
<rect x="644.03" y="664" width="36.50" height="22"/>
<rect x="681.53" y="664" width="36.50" height="22"/>
<rect x="719.03" y="664" width="36.50" height="22"/>
<rect x="756.53" y="664" width="36.50" height="22"/>
<rect x="794.02" y="664" width="36.50" height="22"/>
<rect x="831.52" y="664" width="36.50" height="22"/>
<rect x="869.02" y="664" width="36.50" height="22"/>
<rect x="906.52" y="664" width="36.50" height="22"/>
<rect x="944.02" y="664" width="36.50" height="22"/>
<rect x="981.52" y="664" width="36.50" height="22"/>
<rect x="1019.02" y="664" width="36.50" height="22"/>
<rect x="1056.52" y="664" width="36.50" height="22"/>
<rect x="1094.02" y="664" width="36.50" height="22"/>
<rect x="1131.52" y="664" width="36.50" height="22"/>
<rect x="1169.02" y="664" width="36.50" height="22"/>
<rect x="1206.51" y="664" width="36.50" height="22"/>
<rect x="1244.01" y="664" width="36.50" height="22"/>
<rect x="1281.51" y="664" width="36.50" height="22"/>
<rect x="1319.01" y="664" width="36.50" height="22"/>
<rect x="1356.51" y="664" width="36.50" height="22"/>
<rect x="1394.01" y="664" width="36.50" height="22"/>
<rect x="231.54" y="687" width="36.50" height="21"/>
<rect x="269.04" y="687" width="36.50" height="21"/>
<rect x="306.54" y="687" width="36.50" height="21"/>
<rect x="344.04" y="687" width="36.50" height="21"/>
<rect x="381.54" y="687" width="36.50" height="21"/>
<rect x="419.03" y="687" width="36.50" height="21"/>
<rect x="456.53" y="687" width="36.50" height="21"/>
<rect x="494.03" y="687" width="36.50" height="21"/>
<rect x="531.53" y="687" width="36.50" height="21"/>
<rect x="569.03" y="687" width="36.50" height="21"/>
<rect x="606.53" y="687" width="36.50" height="21"/>
<rect x="644.03" y="687" width="36.50" height="21"/>
<rect x="681.53" y="687" width="36.50" height="21"/>
<rect x="719.03" y="687" width="36.50" height="21"/>
<rect x="756.53" y="687" width="36.50" height="21"/>
<rect x="794.02" y="687" width="36.50" height="21"/>
<rect x="831.52" y="687" width="36.50" height="21"/>
<rect x="869.02" y="687" width="36.50" height="21"/>
<rect x="906.52" y="687" width="36.50" height="21"/>
<rect x="944.02" y="687" width="36.50" height="21"/>
<rect x="981.52" y="687" width="36.50" height="21"/>
<rect x="1019.02" y="687" width="36.50" height="21"/>
<rect x="1056.52" y="687" width="36.50" height="21"/>
<rect x="1094.02" y="687" width="36.50" height="21"/>
<rect x="1131.52" y="687" width="36.50" height="21"/>
<rect x="1169.02" y="687" width="36.50" height="21"/>
<rect x="1206.51" y="687" width="36.50" height="21"/>
<rect x="1244.01" y="687" width="36.50" height="21"/>
<rect x="1281.51" y="687" width="36.50" height="21"/>
<rect x="1319.01" y="687" width="36.50" height="21"/>
<rect x="1356.51" y="687" width="36.50" height="21"/>
<rect x="1394.01" y="687" width="36.50" height="21"/>
<rect x="231.54" y="709" width="36.50" height="21"/>
<rect x="269.04" y="709" width="36.50" height="21"/>
<rect x="306.54" y="709" width="36.50" height="21"/>
<rect x="344.04" y="709" width="36.50" height="21"/>
<rect x="381.54" y="709" width="36.50" height="21"/>
<rect x="419.03" y="709" width="36.50" height="21"/>
<rect x="456.53" y="709" width="36.50" height="21"/>
<rect x="494.03" y="709" width="36.50" height="21"/>
<rect x="531.53" y="709" width="36.50" height="21"/>
<rect x="569.03" y="709" width="36.50" height="21"/>
<rect x="606.53" y="709" width="36.50" height="21"/>
<rect x="644.03" y="709" width="36.50" height="21"/>
<rect x="681.53" y="709" width="36.50" height="21"/>
<rect x="719.03" y="709" width="36.50" height="21"/>
<rect x="756.53" y="709" width="36.50" height="21"/>
<rect x="794.02" y="709" width="36.50" height="21"/>
<rect x="831.52" y="709" width="36.50" height="21"/>
<rect x="869.02" y="709" width="36.50" height="21"/>
<rect x="906.52" y="709" width="36.50" height="21"/>
<rect x="944.02" y="709" width="36.50" height="21"/>
<rect x="981.52" y="709" width="36.50" height="21"/>
<rect x="1019.02" y="709" width="36.50" height="21"/>
<rect x="1056.52" y="709" width="36.50" height="21"/>
<rect x="1094.02" y="709" width="36.50" height="21"/>
<rect x="1131.52" y="709" width="36.50" height="21"/>
<rect x="1169.02" y="709" width="36.50" height="21"/>
<rect x="1206.51" y="709" width="36.50" height="21"/>
<rect x="1244.01" y="709" width="36.50" height="21"/>
<rect x="1281.51" y="709" width="36.50" height="21"/>
<rect x="1319.01" y="709" width="36.50" height="21"/>
<rect x="1356.51" y="709" width="36.50" height="21"/>
<rect x="1394.01" y="709" width="36.50" height="21"/>
<rect x="231.54" y="731" width="36.50" height="21"/>
<rect x="269.04" y="731" width="36.50" height="21"/>
<rect x="306.54" y="731" width="36.50" height="21"/>
<rect x="344.04" y="731" width="36.50" height="21"/>
<rect x="381.54" y="731" width="36.50" height="21"/>
<rect x="419.03" y="731" width="36.50" height="21"/>
<rect x="456.53" y="731" width="36.50" height="21"/>
<rect x="494.03" y="731" width="36.50" height="21"/>
<rect x="531.53" y="731" width="36.50" height="21"/>
<rect x="569.03" y="731" width="36.50" height="21"/>
<rect x="606.53" y="731" width="36.50" height="21"/>
<rect x="644.03" y="731" width="36.50" height="21"/>
<rect x="681.53" y="731" width="36.50" height="21"/>
<rect x="719.03" y="731" width="36.50" height="21"/>
<rect x="756.53" y="731" width="36.50" height="21"/>
<rect x="794.02" y="731" width="36.50" height="21"/>
<rect x="831.52" y="731" width="36.50" height="21"/>
<rect x="869.02" y="731" width="36.50" height="21"/>
<rect x="906.52" y="731" width="36.50" height="21"/>
<rect x="944.02" y="731" width="36.50" height="21"/>
<rect x="981.52" y="731" width="36.50" height="21"/>
<rect x="1019.02" y="731" width="36.50" height="21"/>
<rect x="1056.52" y="731" width="36.50" height="21"/>
<rect x="1094.02" y="731" width="36.50" height="21"/>
<rect x="1131.52" y="731" width="36.50" height="21"/>
<rect x="1169.02" y="731" width="36.50" height="21"/>
<rect x="1206.51" y="731" width="36.50" height="21"/>
<rect x="1244.01" y="731" width="36.50" height="21"/>
<rect x="1281.51" y="731" width="36.50" height="21"/>
<rect x="1319.01" y="731" width="36.50" height="21"/>
<rect x="1356.51" y="731" width="36.50" height="21"/>
<rect x="1394.01" y="731" width="36.50" height="21"/>
<rect x="231.54" y="753" width="36.50" height="22"/>
<rect x="269.04" y="753" width="36.50" height="22"/>
<rect x="306.54" y="753" width="36.50" height="22"/>
<rect x="344.04" y="753" width="36.50" height="22"/>
<rect x="381.54" y="753" width="36.50" height="22"/>
<rect x="419.03" y="753" width="36.50" height="22"/>
<rect x="456.53" y="753" width="36.50" height="22"/>
<rect x="494.03" y="753" width="36.50" height="22"/>
<rect x="531.53" y="753" width="36.50" height="22"/>
<rect x="569.03" y="753" width="36.50" height="22"/>
<rect x="606.53" y="753" width="36.50" height="22"/>
<rect x="644.03" y="753" width="36.50" height="22"/>
<rect x="681.53" y="753" width="36.50" height="22"/>
<rect x="719.03" y="753" width="36.50" height="22"/>
<rect x="756.53" y="753" width="36.50" height="22"/>
<rect x="794.02" y="753" width="36.50" height="22"/>
<rect x="831.52" y="753" width="36.50" height="22"/>
<rect x="869.02" y="753" width="36.50" height="22"/>
<rect x="906.52" y="753" width="36.50" height="22"/>
<rect x="944.02" y="753" width="36.50" height="22"/>
<rect x="981.52" y="753" width="36.50" height="22"/>
<rect x="1019.02" y="753" width="36.50" height="22"/>
<rect x="1056.52" y="753" width="36.50" height="22"/>
<rect x="1094.02" y="753" width="36.50" height="22"/>
<rect x="1131.52" y="753" width="36.50" height="22"/>
<rect x="1169.02" y="753" width="36.50" height="22"/>
<rect x="1206.51" y="753" width="36.50" height="22"/>
<rect x="1244.01" y="753" width="36.50" height="22"/>
<rect x="1281.51" y="753" width="36.50" height="22"/>
<rect x="1319.01" y="753" width="36.50" height="22"/>
<rect x="1356.51" y="753" width="36.50" height="22"/>
<rect x="1394.01" y="753" width="36.50" height="22"/>
<rect x="231.54" y="776" width="36.50" height="21"/>
<rect x="269.04" y="776" width="36.50" height="21"/>
<rect x="306.54" y="776" width="36.50" height="21"/>
<rect x="344.04" y="776" width="36.50" height="21"/>
<rect x="381.54" y="776" width="36.50" height="21"/>
<rect x="419.03" y="776" width="36.50" height="21"/>
<rect x="456.53" y="776" width="36.50" height="21"/>
<rect x="494.03" y="776" width="36.50" height="21"/>
<rect x="531.53" y="776" width="36.50" height="21"/>
<rect x="569.03" y="776" width="36.50" height="21"/>
<rect x="606.53" y="776" width="36.50" height="21"/>
<rect x="644.03" y="776" width="36.50" height="21"/>
<rect x="681.53" y="776" width="36.50" height="21"/>
<rect x="719.03" y="776" width="36.50" height="21"/>
<rect x="756.53" y="776" width="36.50" height="21"/>
<rect x="794.02" y="776" width="36.50" height="21"/>
<rect x="831.52" y="776" width="36.50" height="21"/>
<rect x="869.02" y="776" width="36.50" height="21"/>
<rect x="906.52" y="776" width="36.50" height="21"/>
<rect x="944.02" y="776" width="36.50" height="21"/>
<rect x="981.52" y="776" width="36.50" height="21"/>
<rect x="1019.02" y="776" width="36.50" height="21"/>
<rect x="1056.52" y="776" width="36.50" height="21"/>
<rect x="1094.02" y="776" width="36.50" height="21"/>
<rect x="1131.52" y="776" width="36.50" height="21"/>
<rect x="1169.02" y="776" width="36.50" height="21"/>
<rect x="1206.51" y="776" width="36.50" height="21"/>
<rect x="1244.01" y="776" width="36.50" height="21"/>
<rect x="1281.51" y="776" width="36.50" height="21"/>
<rect x="1319.01" y="776" width="36.50" height="21"/>
<rect x="1356.51" y="776" width="36.50" height="21"/>
<rect x="1394.01" y="776" width="36.50" height="21"/>
<rect x="231.54" y="798" width="36.50" height="21"/>
<rect x="269.04" y="798" width="36.50" height="21"/>
<rect x="306.54" y="798" width="36.50" height="21"/>
<rect x="344.04" y="798" width="36.50" height="21"/>
<rect x="381.54" y="798" width="36.50" height="21"/>
<rect x="419.03" y="798" width="36.50" height="21"/>
<rect x="456.53" y="798" width="36.50" height="21"/>
<rect x="494.03" y="798" width="36.50" height="21"/>
<rect x="531.53" y="798" width="36.50" height="21"/>
<rect x="569.03" y="798" width="36.50" height="21"/>
<rect x="606.53" y="798" width="36.50" height="21"/>
<rect x="644.03" y="798" width="36.50" height="21"/>
<rect x="681.53" y="798" width="36.50" height="21"/>
<rect x="719.03" y="798" width="36.50" height="21"/>
<rect x="756.53" y="798" width="36.50" height="21"/>
<rect x="794.02" y="798" width="36.50" height="21"/>
<rect x="831.52" y="798" width="36.50" height="21"/>
<rect x="869.02" y="798" width="36.50" height="21"/>
<rect x="906.52" y="798" width="36.50" height="21"/>
<rect x="944.02" y="798" width="36.50" height="21"/>
<rect x="981.52" y="798" width="36.50" height="21"/>
<rect x="1019.02" y="798" width="36.50" height="21"/>
<rect x="1056.52" y="798" width="36.50" height="21"/>
<rect x="1094.02" y="798" width="36.50" height="21"/>
<rect x="1131.52" y="798" width="36.50" height="21"/>
<rect x="1169.02" y="798" width="36.50" height="21"/>
<rect x="1206.51" y="798" width="36.50" height="21"/>
<rect x="1244.01" y="798" width="36.50" height="21"/>
<rect x="1281.51" y="798" width="36.50" height="21"/>
<rect x="1319.01" y="798" width="36.50" height="21"/>
<rect x="1356.51" y="798" width="36.50" height="21"/>
<rect x="1394.01" y="798" width="36.50" height="21"/>
<rect x="231.54" y="820" width="36.50" height="22"/>
<rect x="269.04" y="820" width="36.50" height="22"/>
<rect x="306.54" y="820" width="36.50" height="22"/>
<rect x="344.04" y="820" width="36.50" height="22"/>
<rect x="381.54" y="820" width="36.50" height="22"/>
<rect x="419.03" y="820" width="36.50" height="22"/>
<rect x="456.53" y="820" width="36.50" height="22"/>
<rect x="494.03" y="820" width="36.50" height="22"/>
<rect x="531.53" y="820" width="36.50" height="22"/>
<rect x="569.03" y="820" width="36.50" height="22"/>
<rect x="606.53" y="820" width="36.50" height="22"/>
<rect x="644.03" y="820" width="36.50" height="22"/>
<rect x="681.53" y="820" width="36.50" height="22"/>
<rect x="719.03" y="820" width="36.50" height="22"/>
<rect x="756.53" y="820" width="36.50" height="22"/>
<rect x="794.02" y="820" width="36.50" height="22"/>
<rect x="831.52" y="820" width="36.50" height="22"/>
<rect x="869.02" y="820" width="36.50" height="22"/>
<rect x="906.52" y="820" width="36.50" height="22"/>
<rect x="944.02" y="820" width="36.50" height="22"/>
<rect x="981.52" y="820" width="36.50" height="22"/>
<rect x="1019.02" y="820" width="36.50" height="22"/>
<rect x="1056.52" y="820" width="36.50" height="22"/>
<rect x="1094.02" y="820" width="36.50" height="22"/>
<rect x="1131.52" y="820" width="36.50" height="22"/>
<rect x="1169.02" y="820" width="36.50" height="22"/>
<rect x="1206.51" y="820" width="36.50" height="22"/>
<rect x="1244.01" y="820" width="36.50" height="22"/>
<rect x="1281.51" y="820" width="36.50" height="22"/>
<rect x="1319.01" y="820" width="36.50" height="22"/>
<rect x="1356.51" y="820" width="36.50" height="22"/>
<rect x="1394.01" y="820" width="36.50" height="22"/>
<rect x="231.54" y="843" width="36.50" height="21"/>
<rect x="269.04" y="843" width="36.50" height="21"/>
<rect x="306.54" y="843" width="36.50" height="21"/>
<rect x="344.04" y="843" width="36.50" height="21"/>
<rect x="381.54" y="843" width="36.50" height="21"/>
<rect x="419.03" y="843" width="36.50" height="21"/>
<rect x="456.53" y="843" width="36.50" height="21"/>
<rect x="494.03" y="843" width="36.50" height="21"/>
<rect x="531.53" y="843" width="36.50" height="21"/>
<rect x="569.03" y="843" width="36.50" height="21"/>
<rect x="606.53" y="843" width="36.50" height="21"/>
<rect x="644.03" y="843" width="36.50" height="21"/>
<rect x="681.53" y="843" width="36.50" height="21"/>
<rect x="719.03" y="843" width="36.50" height="21"/>
<rect x="756.53" y="843" width="36.50" height="21"/>
<rect x="794.02" y="843" width="36.50" height="21"/>
<rect x="831.52" y="843" width="36.50" height="21"/>
<rect x="869.02" y="843" width="36.50" height="21"/>
<rect x="906.52" y="843" width="36.50" height="21"/>
<rect x="944.02" y="843" width="36.50" height="21"/>
<rect x="981.52" y="843" width="36.50" height="21"/>
<rect x="1019.02" y="843" width="36.50" height="21"/>
<rect x="1056.52" y="843" width="36.50" height="21"/>
<rect x="1094.02" y="843" width="36.50" height="21"/>
<rect x="1131.52" y="843" width="36.50" height="21"/>
<rect x="1169.02" y="843" width="36.50" height="21"/>
<rect x="1206.51" y="843" width="36.50" height="21"/>
<rect x="1244.01" y="843" width="36.50" height="21"/>
<rect x="1281.51" y="843" width="36.50" height="21"/>
<rect x="1319.01" y="843" width="36.50" height="21"/>
<rect x="1356.51" y="843" width="36.50" height="21"/>
<rect x="1394.01" y="843" width="36.50" height="21"/>
<rect x="231.54" y="865" width="36.50" height="21"/>
<rect x="269.04" y="865" width="36.50" height="21"/>
<rect x="306.54" y="865" width="36.50" height="21"/>
<rect x="344.04" y="865" width="36.50" height="21"/>
<rect x="381.54" y="865" width="36.50" height="21"/>
<rect x="419.03" y="865" width="36.50" height="21"/>
<rect x="456.53" y="865" width="36.50" height="21"/>
<rect x="494.03" y="865" width="36.50" height="21"/>
<rect x="531.53" y="865" width="36.50" height="21"/>
<rect x="569.03" y="865" width="36.50" height="21"/>
<rect x="606.53" y="865" width="36.50" height="21"/>
<rect x="644.03" y="865" width="36.50" height="21"/>
<rect x="681.53" y="865" width="36.50" height="21"/>
<rect x="719.03" y="865" width="36.50" height="21"/>
<rect x="756.53" y="865" width="36.50" height="21"/>
<rect x="794.02" y="865" width="36.50" height="21"/>
<rect x="831.52" y="865" width="36.50" height="21"/>
<rect x="869.02" y="865" width="36.50" height="21"/>
<rect x="906.52" y="865" width="36.50" height="21"/>
<rect x="944.02" y="865" width="36.50" height="21"/>
<rect x="981.52" y="865" width="36.50" height="21"/>
<rect x="1019.02" y="865" width="36.50" height="21"/>
<rect x="1056.52" y="865" width="36.50" height="21"/>
<rect x="1094.02" y="865" width="36.50" height="21"/>
<rect x="1131.52" y="865" width="36.50" height="21"/>
<rect x="1169.02" y="865" width="36.50" height="21"/>
<rect x="1206.51" y="865" width="36.50" height="21"/>
<rect x="1244.01" y="865" width="36.50" height="21"/>
<rect x="1281.51" y="865" width="36.50" height="21"/>
<rect x="1319.01" y="865" width="36.50" height="21"/>
<rect x="1356.51" y="865" width="36.50" height="21"/>
<rect x="1394.01" y="865" width="36.50" height="21"/>
<rect x="231.54" y="887" width="36.50" height="21"/>
<rect x="269.04" y="887" width="36.50" height="21"/>
<rect x="306.54" y="887" width="36.50" height="21"/>
<rect x="344.04" y="887" width="36.50" height="21"/>
<rect x="381.54" y="887" width="36.50" height="21"/>
<rect x="419.03" y="887" width="36.50" height="21"/>
<rect x="456.53" y="887" width="36.50" height="21"/>
<rect x="494.03" y="887" width="36.50" height="21"/>
<rect x="531.53" y="887" width="36.50" height="21"/>
<rect x="569.03" y="887" width="36.50" height="21"/>
<rect x="606.53" y="887" width="36.50" height="21"/>
<rect x="644.03" y="887" width="36.50" height="21"/>
<rect x="681.53" y="887" width="36.50" height="21"/>
<rect x="719.03" y="887" width="36.50" height="21"/>
<rect x="756.53" y="887" width="36.50" height="21"/>
<rect x="794.02" y="887" width="36.50" height="21"/>
<rect x="831.52" y="887" width="36.50" height="21"/>
<rect x="869.02" y="887" width="36.50" height="21"/>
<rect x="906.52" y="887" width="36.50" height="21"/>
<rect x="944.02" y="887" width="36.50" height="21"/>
<rect x="981.52" y="887" width="36.50" height="21"/>
<rect x="1019.02" y="887" width="36.50" height="21"/>
<rect x="1056.52" y="887" width="36.50" height="21"/>
<rect x="1094.02" y="887" width="36.50" height="21"/>
<rect x="1131.52" y="887" width="36.50" height="21"/>
<rect x="1169.02" y="887" width="36.50" height="21"/>
<rect x="1206.51" y="887" width="36.50" height="21"/>
<rect x="1244.01" y="887" width="36.50" height="21"/>
<rect x="1281.51" y="887" width="36.50" height="21"/>
<rect x="1319.01" y="887" width="36.50" height="21"/>
<rect x="1356.51" y="887" width="36.50" height="21"/>
<rect x="1394.01" y="887" width="36.50" height="21"/>
</g>
<g fill="#1067B0">
<circle cx="962.27" cy="207.40" r="5.5"/>
<circle cx="1187.26" cy="207.40" r="5.5"/>
<circle cx="549.78" cy="251.94" r="5.5"/>
<circle cx="924.77" cy="251.94" r="5.5"/>
<circle cx="962.27" cy="251.94" r="5.5"/>
<circle cx="999.77" cy="251.94" r="5.5"/>
<circle cx="1187.26" cy="251.94" r="5.5"/>
<circle cx="1374.76" cy="274.21" r="5.5"/>
<circle cx="1374.76" cy="296.48" r="5.5"/>
<circle cx="1374.76" cy="318.74" r="5.5"/>
<circle cx="1374.76" cy="341.01" r="5.5"/>
<circle cx="1374.76" cy="363.28" r="5.5"/>
<circle cx="324.79" cy="385.55" r="5.5"/>
<circle cx="737.28" cy="385.55" r="5.5"/>
<circle cx="774.78" cy="385.55" r="5.5"/>
<circle cx="1074.77" cy="385.55" r="5.5"/>
<circle cx="1374.76" cy="385.55" r="5.5"/>
<circle cx="1374.76" cy="407.82" r="5.5"/>
<circle cx="1374.76" cy="430.08" r="5.5"/>
<circle cx="774.78" cy="452.35" r="5.5"/>
<circle cx="1374.76" cy="452.35" r="5.5"/>
<circle cx="737.28" cy="474.62" r="5.5"/>
<circle cx="1374.76" cy="474.62" r="5.5"/>
<circle cx="549.78" cy="496.89" r="5.5"/>
<circle cx="699.78" cy="496.89" r="5.5"/>
<circle cx="924.77" cy="496.89" r="5.5"/>
<circle cx="962.27" cy="496.89" r="5.5"/>
<circle cx="999.77" cy="496.89" r="5.5"/>
<circle cx="1187.26" cy="496.89" r="5.5"/>
<circle cx="1412.26" cy="496.89" r="5.5"/>
<circle cx="549.78" cy="519.16" r="5.5"/>
<circle cx="662.28" cy="519.16" r="5.5"/>
<circle cx="924.77" cy="519.16" r="5.5"/>
<circle cx="962.27" cy="519.16" r="5.5"/>
<circle cx="999.77" cy="519.16" r="5.5"/>
<circle cx="1187.26" cy="519.16" r="5.5"/>
<circle cx="1412.26" cy="519.16" r="5.5"/>
<circle cx="1374.76" cy="585.96" r="5.5"/>
<circle cx="324.79" cy="608.23" r="5.5"/>
<circle cx="737.28" cy="608.23" r="5.5"/>
<circle cx="774.78" cy="608.23" r="5.5"/>
<circle cx="1074.77" cy="608.23" r="5.5"/>
<circle cx="1374.76" cy="608.23" r="5.5"/>
<circle cx="249.79" cy="630.50" r="5.5"/>
<circle cx="324.79" cy="630.50" r="5.5"/>
<circle cx="737.28" cy="630.50" r="5.5"/>
<circle cx="774.78" cy="630.50" r="5.5"/>
<circle cx="1074.77" cy="630.50" r="5.5"/>
<circle cx="1374.76" cy="630.50" r="5.5"/>
<circle cx="324.79" cy="652.76" r="5.5"/>
<circle cx="737.28" cy="652.76" r="5.5"/>
<circle cx="774.78" cy="652.76" r="5.5"/>
<circle cx="1074.77" cy="652.76" r="5.5"/>
<circle cx="1374.76" cy="652.76" r="5.5"/>
<circle cx="549.78" cy="697.30" r="5.5"/>
<circle cx="924.77" cy="697.30" r="5.5"/>
<circle cx="962.27" cy="697.30" r="5.5"/>
<circle cx="999.77" cy="697.30" r="5.5"/>
<circle cx="1187.26" cy="697.30" r="5.5"/>
<circle cx="1374.76" cy="719.57" r="5.5"/>
<circle cx="1374.76" cy="741.84" r="5.5"/>
<circle cx="249.79" cy="764.10" r="5.5"/>
<circle cx="324.79" cy="764.10" r="5.5"/>
<circle cx="737.28" cy="764.10" r="5.5"/>
<circle cx="774.78" cy="764.10" r="5.5"/>
<circle cx="1074.77" cy="764.10" r="5.5"/>
<circle cx="1374.76" cy="764.10" r="5.5"/>
<circle cx="1374.76" cy="830.91" r="5.5"/>
<circle cx="1374.76" cy="853.18" r="5.5"/>
<circle cx="1412.26" cy="853.18" r="5.5"/>
<circle cx="362.29" cy="875.44" r="5.5"/>
<circle cx="399.79" cy="875.44" r="5.5"/>
<circle cx="437.28" cy="875.44" r="5.5"/>
<circle cx="474.78" cy="875.44" r="5.5"/>
<circle cx="512.28" cy="875.44" r="5.5"/>
<circle cx="549.78" cy="875.44" r="5.5"/>
<circle cx="587.28" cy="875.44" r="5.5"/>
<circle cx="624.78" cy="875.44" r="5.5"/>
<circle cx="662.28" cy="875.44" r="5.5"/>
<circle cx="699.78" cy="875.44" r="5.5"/>
<circle cx="887.27" cy="875.44" r="5.5"/>
<circle cx="924.77" cy="875.44" r="5.5"/>
<circle cx="962.27" cy="875.44" r="5.5"/>
<circle cx="999.77" cy="875.44" r="5.5"/>
<circle cx="1112.27" cy="875.44" r="5.5"/>
<circle cx="1149.77" cy="875.44" r="5.5"/>
<circle cx="1187.26" cy="875.44" r="5.5"/>
<circle cx="1299.76" cy="875.44" r="5.5"/>
<circle cx="1337.26" cy="875.44" r="5.5"/>
<circle cx="1412.26" cy="875.44" r="5.5"/>
<circle cx="737.28" cy="897.71" r="5.5"/>
<circle cx="774.78" cy="897.71" r="5.5"/>
<circle cx="1337.26" cy="897.71" r="5.5"/>
<circle cx="1374.76" cy="897.71" r="5.5"/>
</g>
<text class="r" x="224.6" y="211.55" text-anchor="end" textLength="62.57">Acetic Acid</text>
<text class="r" x="224.6" y="233.82" text-anchor="end" textLength="45.93">Acetone</text>
<text class="r" x="224.6" y="256.09" text-anchor="end" textLength="65.31">Acetonitrile</text>
<text class="r" x="224.6" y="278.36" text-anchor="end" textLength="48.55">Benzene</text>
<text class="r" x="224.6" y="300.63" text-anchor="end" textLength="43.73">Butanol</text>
<text class="r" x="224.6" y="322.89" text-anchor="end" textLength="102.94">Butyl Acetate (n-)</text>
<text class="r" x="224.6" y="345.16" text-anchor="end" textLength="119.27">Carbon Tetrachloride</text>
<text class="r" x="224.6" y="367.43" text-anchor="end" textLength="63.58">Chloroform</text>
<text class="r" x="224.6" y="389.70" text-anchor="end" textLength="71.76">Cyclohexane</text>
<text class="r" x="224.6" y="411.97" text-anchor="end" textLength="124.05">Dichloroethane (1,2-)</text>
<text class="r" x="224.6" y="434.23" text-anchor="end" textLength="97.44">Dichloromethane</text>
<text class="r" x="224.6" y="456.50" text-anchor="end" textLength="74.83">Diethyl Ether</text>
<text class="r" x="224.6" y="478.77" text-anchor="end" textLength="98.77">Diisopropyl Ether</text>
<text class="r" x="224.6" y="501.04" text-anchor="end" textLength="112.53">Dimethylformamide</text>
<text class="r" x="224.6" y="523.31" text-anchor="end" textLength="156.03">Dimethyl Sulfoxide (DMSO)</text>
<text class="r" x="224.6" y="545.57" text-anchor="end" textLength="46.53">Dioxane</text>
<text class="r" x="224.6" y="567.84" text-anchor="end" textLength="43.65">Ethanol</text>
<text class="r" x="224.6" y="590.11" text-anchor="end" textLength="76.42">Ethyl Acetate</text>
<text class="r" x="224.6" y="612.38" text-anchor="end" textLength="47.55">Heptane</text>
<text class="r" x="224.6" y="634.65" text-anchor="end" textLength="42.53">Hexane</text>
<text class="r" x="224.6" y="656.91" text-anchor="end" textLength="57.22">Isooctane</text>
<text class="r" x="224.6" y="679.18" text-anchor="end" textLength="68.74">Isopropanol</text>
<text class="r" x="224.6" y="701.45" text-anchor="end" textLength="52.57">Methanol</text>
<text class="r" x="224.6" y="723.72" text-anchor="end" textLength="153.70">Methyl Ethyl Ketone (MEK)</text>
<text class="r" x="224.6" y="745.99" text-anchor="end" textLength="176.00">Methyl Tert-Butyl Ether (MTBE)</text>
<text class="r" x="224.6" y="768.25" text-anchor="end" textLength="46.79">Pentane</text>
<text class="r" x="224.6" y="790.52" text-anchor="end" textLength="63.04">1-Propanol</text>
<text class="r" x="224.6" y="812.79" text-anchor="end" textLength="127.81">Tetrahydrofuran (THF)</text>
<text class="r" x="224.6" y="835.06" text-anchor="end" textLength="44.22">Toluene</text>
<text class="r" x="224.6" y="857.33" text-anchor="end" textLength="98.81">Trichloroethylene</text>
<text class="r" x="224.6" y="879.59" text-anchor="end" textLength="34.05">Water</text>
<text class="r" x="224.6" y="901.86" text-anchor="end" textLength="38.35">Xylene</text>
<text class="h" transform="translate(254.79,188.6) rotate(-90)" textLength="68.72">Acetic Acid</text>
<text class="h" transform="translate(292.29,188.6) rotate(-90)" textLength="50.88">Acetone</text>
<text class="h" transform="translate(329.79,188.6) rotate(-90)" textLength="71.97">Acetonitrile</text>
<text class="h" transform="translate(367.29,188.6) rotate(-90)" textLength="52.82">Benzene</text>
<text class="h" transform="translate(404.79,188.6) rotate(-90)" textLength="48.21">Butanol</text>
<text class="h" transform="translate(442.28,188.6) rotate(-90)" textLength="112.45">Butyl Acetate (n-)</text>
<text class="h" transform="translate(479.78,188.6) rotate(-90)" textLength="130.39">Carbon Tetrachloride</text>
<text class="h" transform="translate(517.28,188.6) rotate(-90)" textLength="69.99">Chloroform</text>
<text class="h" transform="translate(554.78,188.6) rotate(-90)" textLength="78.66">Cyclohexane</text>
<text class="h" transform="translate(592.28,188.6) rotate(-90)" textLength="135.39">Dichloroethane (1,2-)</text>
<text class="h" transform="translate(629.78,188.6) rotate(-90)" textLength="105.79">Dichloromethane</text>
<text class="h" transform="translate(667.28,188.6) rotate(-90)" textLength="81.49">Diethyl Ether</text>
<text class="h" style="font-size:11.2px" transform="translate(704.78,188.6) rotate(-90)" textLength="98.39">Diisopropyl Ether</text>
<text class="h" transform="translate(742.28,188.6) rotate(-90)" textLength="122.91">Dimethylformamide</text>
<text class="h" transform="translate(773.48,188.6) rotate(-90)" textLength="116.57">Dimethyl Sulfoxide</text>
<text class="h" transform="translate(785.88,188.6) rotate(-90)" textLength="50.37">(DMSO)</text>
<text class="h" transform="translate(817.27,188.6) rotate(-90)" textLength="50.41">Dioxane</text>
<text class="h" transform="translate(854.77,188.6) rotate(-90)" textLength="47.70">Ethanol</text>
<text class="h" transform="translate(892.27,188.6) rotate(-90)" textLength="83.14">Ethyl Acetate</text>
<text class="h" transform="translate(929.77,188.6) rotate(-90)" textLength="52.01">Heptane</text>
<text class="h" transform="translate(967.27,188.6) rotate(-90)" textLength="46.34">Hexane</text>
<text class="h" transform="translate(1004.77,188.6) rotate(-90)" textLength="62.26">Isooctane</text>
<text class="h" transform="translate(1042.27,188.6) rotate(-90)" textLength="74.90">Isopropanol</text>
<text class="h" transform="translate(1079.77,188.6) rotate(-90)" textLength="57.25">Methanol</text>
<text class="h" transform="translate(1110.97,188.6) rotate(-90)" textLength="124.82">Methyl Ethyl Ketone</text>
<text class="h" transform="translate(1123.37,188.6) rotate(-90)" textLength="39.14">(MEK)</text>
<text class="h" transform="translate(1148.47,188.6) rotate(-90)" textLength="107.79">Methyl Tert-Butyl</text>
<text class="h" transform="translate(1160.87,188.6) rotate(-90)" textLength="83.79">Ether (MTBE)</text>
<text class="h" transform="translate(1192.26,188.6) rotate(-90)" textLength="50.46">Pentane</text>
<text class="h" transform="translate(1229.76,188.6) rotate(-90)" textLength="68.02">1-Propanol</text>
<text class="h" transform="translate(1267.26,188.6) rotate(-90)" textLength="139.58">Tetrahydrofuran (THF)</text>
<text class="h" transform="translate(1304.76,188.6) rotate(-90)" textLength="48.39">Toluene</text>
<text class="h" transform="translate(1342.26,188.6) rotate(-90)" textLength="107.99">Trichloroethylene</text>
<text class="h" transform="translate(1379.76,188.6) rotate(-90)" textLength="37.60">Water</text>
<text class="h" transform="translate(1417.26,188.6) rotate(-90)" textLength="42.27">Xylene</text>
</svg></body></html>
